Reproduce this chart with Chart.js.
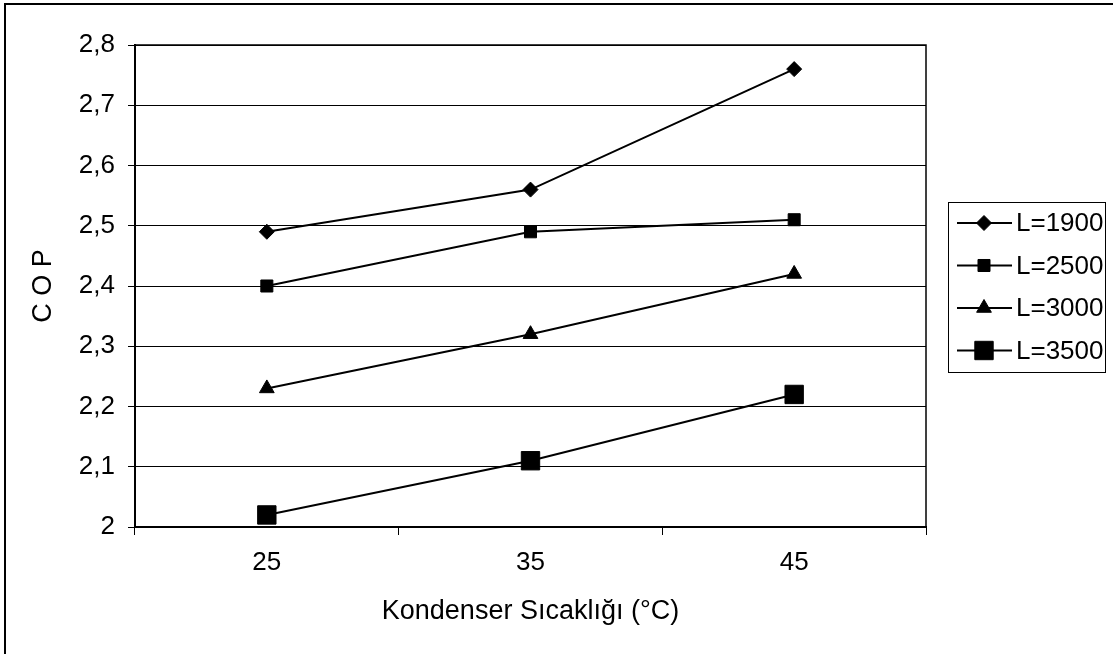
<!DOCTYPE html>
<html>
<head>
<meta charset="utf-8">
<script src="https://cdn.jsdelivr.net/npm/chart.js@4.4.1/dist/chart.umd.min.js"></script>
<style>
  html, body { margin: 0; padding: 0; background: #fff; }
  #wrap { width: 1113px; height: 654px; position: relative; }
</style>
</head>
<body>
<div id="wrap"><canvas id="c" width="1113" height="654"></canvas></div>
<script>
const categories = ['25', '35', '45'];
const seriesLabels = ['L=1900', 'L=2500', 'L=3000', 'L=3500'];
const cop1900 = [2.49, 2.56, 2.76];
const cop2500 = [2.40, 2.49, 2.51];
const cop3000 = [2.23, 2.32, 2.42];
const cop3500 = [2.02, 2.11, 2.22];
const yTickLabels = ['2', '2,1', '2,2', '2,3', '2,4', '2,5', '2,6', '2,7', '2,8'];
const xTitle = 'Kondenser Sıcaklığı (°C)';
const yTitle = 'C O P';

const FONT = "'Liberation Sans', Arial, Helvetica, sans-serif";

function ds(label, data, style, radius) {
  return {
    label, data,
    borderColor: '#000', backgroundColor: '#000',
    borderWidth: 2,
    pointStyle: style, pointRadius: radius, pointHoverRadius: radius,
    pointBackgroundColor: '#000', pointBorderColor: '#000', pointBorderWidth: 1,
    tension: 0, fill: false
  };
}

const frame = {
  id: 'frame',
  beforeDraw(chart) {
    const ctx = chart.ctx;
    ctx.save();
    ctx.fillStyle = '#fff';
    ctx.fillRect(0, 0, chart.width, chart.height);
    ctx.strokeStyle = '#000';
    ctx.lineWidth = 2;
    ctx.beginPath();
    ctx.moveTo(5, chart.height + 2);
    ctx.lineTo(5, 4);
    ctx.lineTo(chart.width + 2, 4);
    ctx.stroke();
    ctx.restore();
  },
  afterDatasetsDraw(chart) {
    const ctx = chart.ctx;
    const a = chart.chartArea;
    ctx.save();
    ctx.strokeStyle = '#000';
    ctx.lineWidth = 1.5;
    ctx.strokeRect(a.left, a.top, a.right - a.left, a.bottom - a.top);
    ctx.restore();
  }
};

function drawMarker(ctx, style, r, x, y) {
  if (Chart.helpers && Chart.helpers.drawPoint) {
    Chart.helpers.drawPoint(ctx, {pointStyle: style, radius: r, rotation: 0, borderWidth: 1}, x, y);
    return;
  }
  ctx.beginPath();
  if (style === 'rectRot') {
    ctx.moveTo(x - r, y); ctx.lineTo(x, y - r); ctx.lineTo(x + r, y); ctx.lineTo(x, y + r);
  } else if (style === 'triangle') {
    ctx.moveTo(x, y - r); ctx.lineTo(x + r * 0.866, y + r / 2); ctx.lineTo(x - r * 0.866, y + r / 2);
  } else {
    const s = r * Math.SQRT1_2;
    ctx.rect(x - s, y - s, 2 * s, 2 * s);
  }
  ctx.closePath();
  ctx.fill();
  ctx.stroke();
}

const boxLegend = {
  id: 'boxLegend',
  afterDraw(chart) {
    const ctx = chart.ctx;
    const bx = 948, by = 202, bw = 157, bh = 170;
    ctx.save();
    ctx.strokeStyle = '#000';
    ctx.lineWidth = 1;
    ctx.strokeRect(bx + 0.5, by + 0.5, bw, bh);
    chart.data.datasets.forEach((d, i) => {
      const y = by + 21 + i * 42.5;
      ctx.strokeStyle = '#000';
      ctx.fillStyle = '#000';
      ctx.lineWidth = 2;
      ctx.beginPath();
      ctx.moveTo(957, y);
      ctx.lineTo(1012, y);
      ctx.stroke();
      ctx.lineWidth = 1;
      drawMarker(ctx, d.pointStyle, d.pointRadius, 984, y);
      ctx.font = '26px ' + FONT;
      ctx.textBaseline = 'middle';
      ctx.textAlign = 'left';
      ctx.fillText(d.label, 1016, y + 1);
    });
    ctx.restore();
  }
};

new Chart(document.getElementById('c'), {
  type: 'line',
  data: {
    labels: categories,
    datasets: [
      ds(seriesLabels[0], cop1900, 'rectRot', 7.5),
      ds(seriesLabels[1], cop2500, 'rect', 8.5),
      ds(seriesLabels[2], cop3000, 'triangle', 8.5),
      ds(seriesLabels[3], cop3500, 'rect', 13)
    ]
  },
  options: {
    responsive: false,
    animation: false,
    events: [],
    layout: { padding: { top: 45, right: 187, left: 0, bottom: 0 } },
    plugins: { legend: { display: false }, tooltip: { enabled: false } },
    scales: {
      x: {
        type: 'category',
        offset: true,
        afterFit(s) { s.height = 127; },
        grid: { offset: true, drawOnChartArea: false, drawTicks: true, tickLength: 8, color: '#000', lineWidth: 1 },
        border: { display: true, color: '#000', width: 2 },
        ticks: { color: '#000', font: { family: FONT, size: 26 }, padding: 12, maxRotation: 0 },
        title: { display: true, text: xTitle, color: '#000', font: { family: FONT, size: 27 }, padding: { top: 0, bottom: 26 } }
      },
      y: {
        min: 2, max: 2.8,
        afterFit(s) { s.width = 135; },
        afterBuildTicks(s) {
          s.ticks = yTickLabels.map((t, i) => ({ value: 2 + i * 0.1 }));
        },
        grid: { color: '#000', lineWidth: 1, drawTicks: true, tickLength: 7 },
        border: { display: true, color: '#000', width: 2 },
        ticks: {
          color: '#000', font: { family: FONT, size: 26 }, padding: 13,
          callback: (v, i) => yTickLabels[i]
        },
        title: { display: true, text: yTitle, color: '#000', font: { family: FONT, size: 27 }, padding: { top: 27, bottom: 0 } }
      }
    }
  },
  plugins: [frame, boxLegend]
});
</script>
</body>
</html>
